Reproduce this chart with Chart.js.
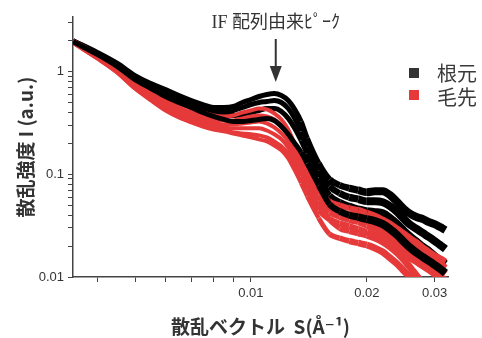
<!DOCTYPE html>
<html>
<head>
<meta charset="utf-8">
<script src="https://cdn.jsdelivr.net/npm/chart.js@4/dist/chart.umd.min.js"></script>
<style>
  html, body { margin: 0; padding: 0; background: #fff; }
</style>
</head>
<body>
<canvas id="saxs" width="482" height="338"></canvas>
<script>
// scattering vector S (1/A)
var sValues = [0.00345, 0.004, 0.0045, 0.005, 0.0055, 0.006, 0.0065, 0.007, 0.0075, 0.008,
               0.0085, 0.009, 0.0095, 0.010, 0.0105, 0.011, 0.0115, 0.012, 0.0125, 0.013,
               0.0135, 0.014, 0.015, 0.016, 0.017, 0.018, 0.019, 0.020, 0.021, 0.022,
               0.023, 0.024, 0.025, 0.026, 0.027, 0.028, 0.029, 0.030, 0.031, 0.032];

// 根元 (root) curves
var root1 = [2.00, 1.53, 1.20, 0.915, 0.765, 0.669, 0.585, 0.523, 0.478, 0.447,
             0.447, 0.457, 0.500, 0.535, 0.572, 0.598, 0.611, 0.585, 0.523, 0.428,
             0.327, 0.224, 0.128, 0.0894, 0.0782, 0.0731, 0.0699, 0.0669, 0.0684, 0.0684,
             0.0625, 0.0535, 0.0457, 0.0409, 0.0382, 0.0366, 0.0342, 0.0327, 0.0306, 0.0286];
var root2 = [2.00, 1.50, 1.17, 0.874, 0.731, 0.625, 0.547, 0.489, 0.447, 0.418,
             0.409, 0.418, 0.447, 0.478, 0.500, 0.511, 0.523, 0.500, 0.437, 0.350,
             0.262, 0.187, 0.109, 0.0765, 0.0654, 0.0598, 0.0572, 0.0547, 0.0547, 0.0535,
             0.0489, 0.0428, 0.0366, 0.0320, 0.0292, 0.0267, 0.0245, 0.0224, 0.0205, 0.0187];
var root3 = [1.956, 1.462, 1.118, 0.836, 0.684, 0.585, 0.511, 0.457, 0.418, 0.391,
             0.374, 0.374, 0.382, 0.400, 0.418, 0.437, 0.437, 0.409, 0.350, 0.280,
             0.214, 0.160, 0.0935, 0.0625, 0.0535, 0.0489, 0.0457, 0.0437, 0.0428, 0.0418,
             0.0374, 0.0327, 0.0280, 0.0245, 0.0219, 0.0196, 0.0179, 0.0160, 0.0146, 0.0134];
var root4 = [1.956, 1.462, 1.118, 0.836, 0.684, 0.572, 0.500, 0.447, 0.400, 0.366,
             0.342, 0.327, 0.327, 0.334, 0.342, 0.350, 0.334, 0.292, 0.245, 0.200,
             0.164, 0.128, 0.0782, 0.0511, 0.0437, 0.0400, 0.0382, 0.0366, 0.0350, 0.0327,
             0.0292, 0.0256, 0.0219, 0.0191, 0.0171, 0.0156, 0.0143, 0.0131, 0.0120, 0.0109];

// 毛先 (tip) curves
var tip1 = [2.00, 1.462, 1.118, 0.836, 0.684, 0.572, 0.489, 0.437, 0.400, 0.374,
            0.366, 0.374, 0.400, 0.418, 0.437, 0.428, 0.391, 0.342, 0.273, 0.196,
            0.143, 0.109, 0.0699, 0.0547, 0.0500, 0.0467, 0.0447, 0.0418, 0.0391, 0.0358,
            0.0327, 0.0292, 0.0262, 0.0234, 0.0214, 0.0191, 0.0175, 0.0160, 0.0150, 0.0140];
var tip2 = [1.956, 1.430, 1.069, 0.782, 0.625, 0.523, 0.447, 0.400, 0.366, 0.342,
            0.334, 0.334, 0.350, 0.366, 0.374, 0.366, 0.342, 0.299, 0.245, 0.179,
            0.131, 0.0978, 0.0625, 0.0478, 0.0437, 0.0409, 0.0391, 0.0366, 0.0342, 0.0313,
            0.0286, 0.0256, 0.0229, 0.0205, 0.0187, 0.0171, 0.0156, 0.0143, 0.0134, 0.0122];
var tip3 = [1.956, 1.398, 1.046, 0.748, 0.598, 0.489, 0.418, 0.374, 0.342, 0.320,
            0.306, 0.306, 0.313, 0.320, 0.327, 0.313, 0.286, 0.250, 0.209, 0.156,
            0.114, 0.0874, 0.0559, 0.0428, 0.0382, 0.0358, 0.0342, 0.0320, 0.0299, 0.0273,
            0.0250, 0.0224, 0.0200, 0.0179, 0.0164, 0.0150, 0.0137, 0.0125, 0.0117, 0.0107];
var tip4 = [1.912, 1.367, 1.023, 0.715, 0.559, 0.457, 0.391, 0.350, 0.320, 0.299,
            0.286, 0.280, 0.280, 0.280, 0.280, 0.267, 0.245, 0.219, 0.183, 0.140,
            0.105, 0.0782, 0.0500, 0.0374, 0.0334, 0.0313, 0.0292, 0.0273, 0.0256, 0.0234,
            0.0214, 0.0191, 0.0171, 0.0153, 0.0140, 0.0128, 0.0117, 0.0107, 0.0100, 0.00935];
var tip5 = [1.912, 1.337, 0.978, 0.684, 0.535, 0.437, 0.366, 0.327, 0.299, 0.280,
            0.267, 0.256, 0.250, 0.245, 0.239, 0.229, 0.209, 0.187, 0.160, 0.125,
            0.0956, 0.0715, 0.0447, 0.0358, 0.0299, 0.0280, 0.0267, 0.0256, 0.0239, 0.0219,
            0.0196, 0.0171, 0.0146, 0.0122, 0.0102, 0.00874, 0.00746];
var tip6 = [1.912, 1.337, 0.978, 0.684, 0.523, 0.418, 0.358, 0.320, 0.292, 0.273,
            0.262, 0.250, 0.239, 0.229, 0.219, 0.209, 0.191, 0.171, 0.143, 0.109,
            0.0818, 0.0611, 0.0374, 0.0262, 0.0239, 0.0224, 0.0214, 0.0205, 0.0191, 0.0175,
            0.0153, 0.0134, 0.0114, 0.0098, 0.00836];

// ticks
var xTickMarks = [0.004, 0.005, 0.006, 0.007, 0.008, 0.009, 0.01, 0.02, 0.03];
var xTickLabels = [0.01, 0.02, 0.03];
var yTickMarks = [0.01, 0.02, 0.03, 0.04, 0.05, 0.06, 0.07, 0.08, 0.09,
                  0.1, 0.2, 0.3, 0.4, 0.5, 0.6, 0.7, 0.8, 0.9, 1, 2, 3];
var yTickLabels = [0.01, 0.1, 1];

var seriesNames = ['根元', '毛先'];
var rootCurves = [root1, root2, root3, root4];
var tipCurves = [tip1, tip2, tip3, tip4, tip5, tip6];

var BLACK = '#000000';
var RED = '#e5393a';

function toPoints(arr) {
  return arr.map(function (v, i) { return { x: sValues[i], y: v }; });
}

// the measured bands get noisier (wider) past the IF peak
function widthAt(x, wLow, wHigh) {
  var t = (x - 0.013) / (0.02 - 0.013);
  t = Math.max(0, Math.min(1, t));
  return wLow + (wHigh - wLow) * t;
}

function makeSet(arr, color, label, wLow, wHigh, order) {
  return {
    label: label,
    data: toPoints(arr),
    showLine: true,
    order: order,
    borderColor: color,
    backgroundColor: color,
    borderWidth: wLow,
    pointRadius: 0,
    cubicInterpolationMode: 'monotone',
    clip: 0,
    segment: {
      borderWidth: function (c) { return widthAt(c.p0.parsed.x, wLow, wHigh); }
    }
  };
}

var datasets = [];
rootCurves.forEach(function (c, i) {
  // lowest root curve runs among the tip curves and stays visible
  datasets.push(makeSet(c, BLACK, seriesNames[0], 5, 8, i === 3 ? 0 : 2));
});
tipCurves.forEach(function (c) { datasets.push(makeSet(c, RED, seriesNames[1], 4, 7, 1)); });

function labelFor(list, v) {
  for (var i = 0; i < list.length; i++) {
    if (Math.abs(list[i] - v) < list[i] * 1e-6) return String(list[i]);
  }
  return '';
}

// legend + annotation arrow drawn on top
var overlay = {
  id: 'overlay',
  afterDraw: function (chart) {
    var ctx = chart.ctx;
    ctx.save();
    // legend
    ctx.fillStyle = '#333333';
    ctx.fillRect(409, 68, 10, 10);
    ctx.fillStyle = RED;
    ctx.fillRect(409, 90, 10, 10);
    ctx.fillStyle = '#3a3a3a';
    ctx.font = '20px "Noto Sans CJK JP"';
    ctx.textBaseline = 'middle';
    ctx.textAlign = 'left';
    ctx.fillText(seriesNames[0], 437, 73);
    ctx.fillText(seriesNames[1], 437, 97);

    // IF peak note
    var ax = chart.scales.x.getPixelForValue(0.0116);
    ctx.fillStyle = '#333333';
    ctx.font = '18px "Liberation Serif", "Noto Sans CJK JP"';
    ctx.textAlign = 'center';
    ctx.fillText('IF 配列由来ﾋﾟｰｸ', ax, 23);
    ctx.strokeStyle = '#333333';
    ctx.lineWidth = 2;
    ctx.beginPath();
    ctx.moveTo(ax, 39);
    ctx.lineTo(ax, 70);
    ctx.stroke();
    ctx.beginPath();
    ctx.moveTo(ax - 6, 66);
    ctx.lineTo(ax + 6, 66);
    ctx.lineTo(ax, 82);
    ctx.closePath();
    ctx.fill();
    ctx.restore();
  }
};

var tickFont = { family: '"Liberation Sans", Arial, sans-serif', size: 13 };
var titleFont = { family: '"Noto Sans CJK JP", "DejaVu Sans"', size: 19, weight: 'bold' };

var chart = new Chart(document.getElementById('saxs'), {
  type: 'scatter',
  data: { datasets: datasets },
  options: {
    responsive: false,
    animation: false,
    layout: { padding: { top: 17, right: 34, left: 0, bottom: 0 } },
    plugins: {
      legend: { display: false },
      tooltip: { enabled: false }
    },
    scales: {
      x: {
        type: 'logarithmic',
        min: 0.00345,
        max: 0.0325,
        border: { display: true, color: '#444444', width: 1.5 },
        grid: { display: true, drawOnChartArea: false, drawTicks: true, tickLength: 5, tickColor: '#444444' },
        ticks: {
          autoSkip: false, maxRotation: 0, padding: 4, color: '#333333', font: tickFont,
          callback: function (v) { return labelFor(xTickLabels, v); }
        },
        afterBuildTicks: function (s) { s.ticks = xTickMarks.map(function (v) { return { value: v }; }); },
        afterFit: function (s) { s.height = 61; },
        title: {
          display: true,
          text: '散乱ベクトル  S(Å⁻¹)',
          color: '#333333',
          font: titleFont,
          padding: { top: 0, bottom: 0 }
        }
      },
      y: {
        type: 'logarithmic',
        min: 0.01,
        max: 3.4,
        border: { display: true, color: '#444444', width: 1.5 },
        grid: { display: true, drawOnChartArea: false, drawTicks: true, tickLength: 5, tickColor: '#444444' },
        ticks: {
          autoSkip: false, padding: 4, color: '#333333', font: tickFont,
          callback: function (v) { return labelFor(yTickLabels, v); }
        },
        afterBuildTicks: function (s) { s.ticks = yTickMarks.map(function (v) { return { value: v }; }); },
        afterFit: function (s) { s.width = 73; },
        title: {
          display: true,
          text: '散乱強度 I (a.u.)',
          color: '#333333',
          font: titleFont,
          padding: { top: 14, bottom: 0 }
        }
      }
    }
  },
  plugins: [overlay]
});
</script>
</body>
</html>
